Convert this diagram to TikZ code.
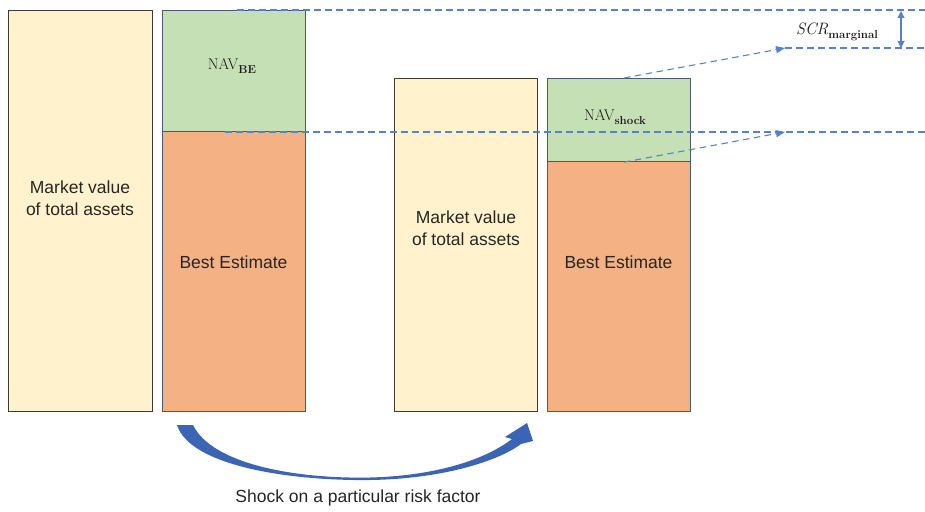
\documentclass[tikz,border=0pt]{standalone}
\usepackage{fontspec}
\setsansfont{Liberation Sans}
\usetikzlibrary{arrows.meta}
\definecolor{cream}{HTML}{FFF2CC}
\definecolor{creamline}{HTML}{3A3A3A}
\definecolor{navgreen}{HTML}{C5E0B4}
\definecolor{beorange}{HTML}{F4B183}
\definecolor{slate}{HTML}{4A5A70}
\definecolor{dashblue}{HTML}{5682CC}
\definecolor{arrowblue}{HTML}{3C64B4}
\newcommand{\subtxt}[1]{\raisebox{-0.28em}{\fontsize{11.5}{12}\selectfont\bfseries #1}}
\begin{document}
\begin{tikzpicture}[x=1pt,y=-1pt,
  asset/.style={draw=creamline,fill=cream,line width=1.1pt,anchor=north west,inner sep=0pt},
  navbox/.style={draw=slate,fill=navgreen,line width=1.1pt,anchor=north west,inner sep=0pt},
  bebox/.style={draw=slate,fill=beorange,line width=1.1pt,anchor=north west,inner sep=0pt},
  txt/.style={font=\sffamily\fontsize{17.5}{22.5}\selectfont,align=center,text=black!85,inner sep=0pt},
  navtxt/.style={font=\fontsize{15.5}{18}\selectfont,inner sep=0pt,text=black!90},
  guide/.style={draw=dashblue,line width=1.1pt,dash pattern=on 6.5pt off 4.5pt},
  tip/.style={-{Triangle[length=9pt,width=7pt]}}
]
\useasboundingbox (0,0) rectangle (925,511);
% left pair
\node[asset,minimum width=144pt,minimum height=401pt] (A) at (8,10) {};
\node[bebox,minimum width=143pt,minimum height=280pt] (Bo) at (162,131) {};
\node[navbox,minimum width=143pt,minimum height=121pt] (Bg) at (162,10) {};
% right pair
\node[asset,minimum width=143pt,minimum height=333pt] (C) at (394,78) {};
\node[bebox,minimum width=143pt,minimum height=250pt] (Do) at (547,161) {};
\node[navbox,minimum width=143pt,minimum height=83pt] (Dg) at (547,78) {};
% texts
\node[txt] (tA) at (80,198) {Market value\\of total assets};
\node[txt] (tBo) at (233.5,262) {Best Estimate};
\node[navtxt] (tBg) at (232,66) {NAV\subtxt{BE}};
\node[txt] (tC) at (466,228) {Market value\\of total assets};
\node[txt] (tDo) at (618.5,262) {Best Estimate};
\node[navtxt] (tDg) at (615,117) {NAV\subtxt{shock}};
\node[navtxt,font=\fontsize{16.5}{18}\selectfont] (scr) at (837,32) {\textit{SCR}\subtxt{marginal}};
\node[txt] (shock) at (358,498) {Shock on a particular risk factor};
% guide coordinates
\coordinate (topR) at (925,10);
\coordinate (midR) at (925,132);
\coordinate (lowR) at (925,48);
\coordinate (upA) at (785,48);
\coordinate (dnA) at (785,132);
\coordinate (Bsplit) at (225,132);
\coordinate (Btop) at (237,10);
\coordinate (dT) at (901,11);
\coordinate (dB) at (901,48);
% dashed guides
\draw[guide] (Btop) -- (topR);
\draw[guide] (Bsplit) -- (midR);
\draw[guide] (upA) -- (lowR);
\draw[guide,tip] ([xshift=5pt]Dg.north) -- (upA);
\draw[guide,tip] ([xshift=5pt]Dg.south) -- (dnA);
\draw[draw=dashblue,line width=1.1pt,{Triangle[length=7pt,width=7pt]}-{Triangle[length=7pt,width=7pt]}] (dT) -- (dB);
% curved shock arrow
\fill[arrowblue] (177,425) .. controls (190,466) and (290,481) .. (370,480)
  .. controls (440,479) and (497,462) .. (521,444)
  -- (533,441) -- (527,423) -- (505,437) -- (512,439)
  .. controls (482,462) and (430,476) .. (370,477.5)
  .. controls (295,479) and (212,464) .. (193,425) -- cycle;
\end{tikzpicture}
\end{document}
